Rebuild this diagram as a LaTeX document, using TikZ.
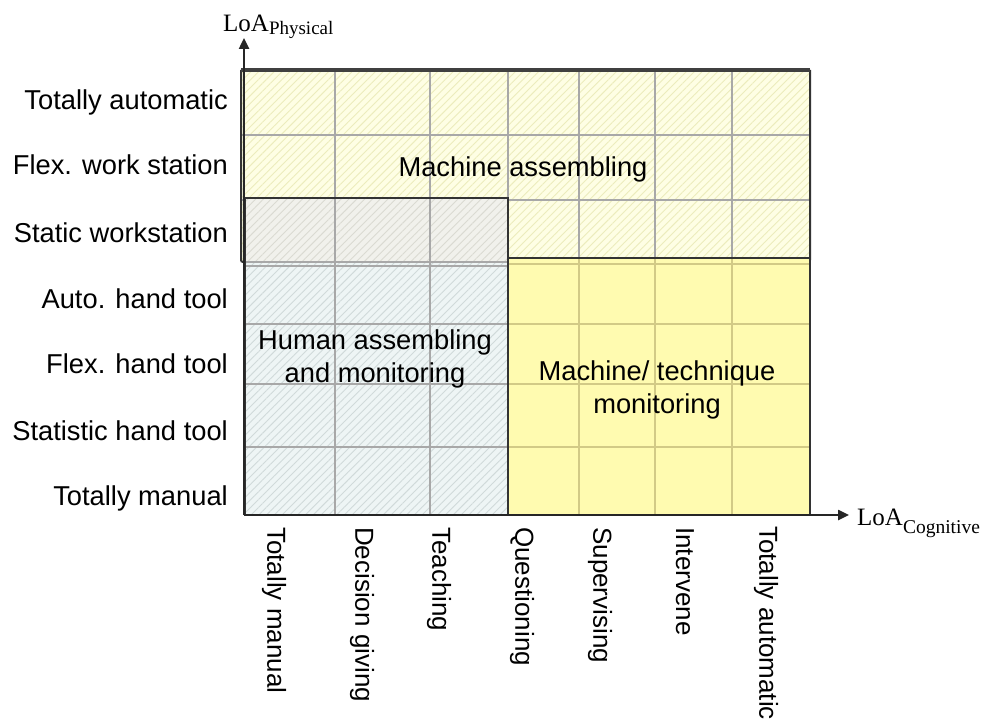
\documentclass[tikz,border=0pt]{standalone}
\usepackage{fontspec}
\setmainfont{Liberation Sans}
\newfontfamily\seriffont{Liberation Serif}
\usetikzlibrary{patterns.meta,arrows.meta}
\definecolor{mafill}{HTML}{FEFEE4}
\definecolor{mahatch}{HTML}{ECECBC}
\definecolor{hufill}{HTML}{EEF5F5}
\definecolor{huhatch}{HTML}{D0DADA}
\definecolor{ovfill}{HTML}{F1F1EC}
\definecolor{ovhatch}{HTML}{DADAD2}
\definecolor{yefill}{HTML}{FFFBB0}
\definecolor{yegrid}{HTML}{D2CA86}
\definecolor{grgrid}{HTML}{A8A8A8}
\definecolor{bordercol}{HTML}{333333}
\tikzset{
  lab/.style={font=\fontsize{27.3}{32.5}\selectfont, inner sep=0pt},
  collab/.style={inner sep=0pt, font=\fontsize{26}{30}\selectfont, rotate=-90, anchor=west},
  rowlab/.style={lab, anchor=base east},
  hatchpat/.style={pattern={Lines[angle=45,distance=5.5pt,line width=0.9pt]}, pattern color=#1},
  gridline/.style={line width=1.6pt, draw=#1},
  regionborder/.style={line width=2pt, draw=bordercol},
  axisline/.style={line width=2.4pt, draw=black!85, -{Triangle[length=11pt,width=10pt]}},
  axlab/.style={inner sep=0pt, anchor=base west, font=\seriffont\fontsize{25}{25}\selectfont}
}
\begin{document}
\begin{tikzpicture}[x=1pt,y=-1pt]
\useasboundingbox (0,0) rectangle (984,727);
% Machine assembling region
\fill[mafill] (241,70) rectangle (810,262);
\fill[hatchpat=mahatch] (241,70) rectangle (810,262);
\foreach \x in {335,430,508,579,655,732}
  \draw[gridline=grgrid] (\x,70) -- (\x,262);
\foreach \y in {135,200}
  \draw[gridline=grgrid] (241,\y) -- (810,\y);
\draw[regionborder, rounded corners=2pt] (241,70) -- (241,262) -- (810,262) -- (810,70);
\draw[line width=3.2pt, draw=black!75] (241,70) -- (810,70);
% Human assembling region
\fill[hufill] (245,198) rectangle (508,515);
\fill[hatchpat=huhatch] (245,198) rectangle (508,515);
\fill[ovfill] (245,198) rectangle (508,262);
\fill[hatchpat=ovhatch] (245,198) rectangle (508,262);
\foreach \x in {335,430}
  \draw[gridline=grgrid] (\x,198) -- (\x,515);
\foreach \y in {262,266,324,384,447}
  \draw[gridline=grgrid] (245,\y) -- (508,\y);
\draw[regionborder] (245,198) rectangle (508,515);
% Machine / technique region
\fill[yefill] (508,258) rectangle (810,515);
\foreach \x in {579,655,732}
  \draw[gridline=yegrid] (\x,258) -- (\x,515);
\foreach \y in {264,324,384,447}
  \draw[gridline=yegrid] (508,\y) -- (810,\y);
\draw[regionborder] (508,258) rectangle (810,515);
% Axes
\coordinate (O) at (244,515);
\coordinate (ytop) at (244,38);
\coordinate (xend) at (849,515);
\draw[axisline] (O) -- (ytop);
\draw[axisline] (O) -- (xend);
\node[axlab] (ylab) at (223,32) {LoA\raisebox{-3pt}{\fontsize{19}{19}\selectfont Physical}};
\node[axlab] (xlab) at (857,525) {LoA\raisebox{-8pt}{\fontsize{19.5}{19.5}\selectfont Cognitive}};
% Region labels
\node[lab, anchor=base] (ma) at (523,177) {Machine assembling};
\node[lab, anchor=base, align=center] (hu) at (375,382) {Human assembling\\and monitoring};
\node[lab, anchor=base, align=center] (mt) at (657,413) {Machine/ technique\\monitoring};
% Row labels
\node[rowlab] (r7) at (228,110) {Totally automatic};
\node[rowlab] (r6) at (228,175) {Flex. work station};
\node[rowlab] (r5) at (228,242) {Static workstation};
\node[rowlab] (r4) at (228,308) {Auto. hand tool};
\node[rowlab] (r3) at (228,373) {Flex. hand tool};
\node[rowlab] (r2) at (228,440) {Statistic hand tool};
\node[rowlab] (r1) at (228,505) {Totally manual};
% Column labels
\node[collab] (c1) at (274,527) {Totally manual};
\node[collab] (c2) at (362,527) {Decision giving};
\node[collab] (c3) at (439,527) {Teaching};
\node[collab] (c4) at (522,527) {Questioning};
\node[collab] (c5) at (600,527) {Supervising};
\node[collab] (c6) at (685,527) {Intervene};
\node[collab] (c7) at (766,526) {Totally automatic};
\end{tikzpicture}
\end{document}
